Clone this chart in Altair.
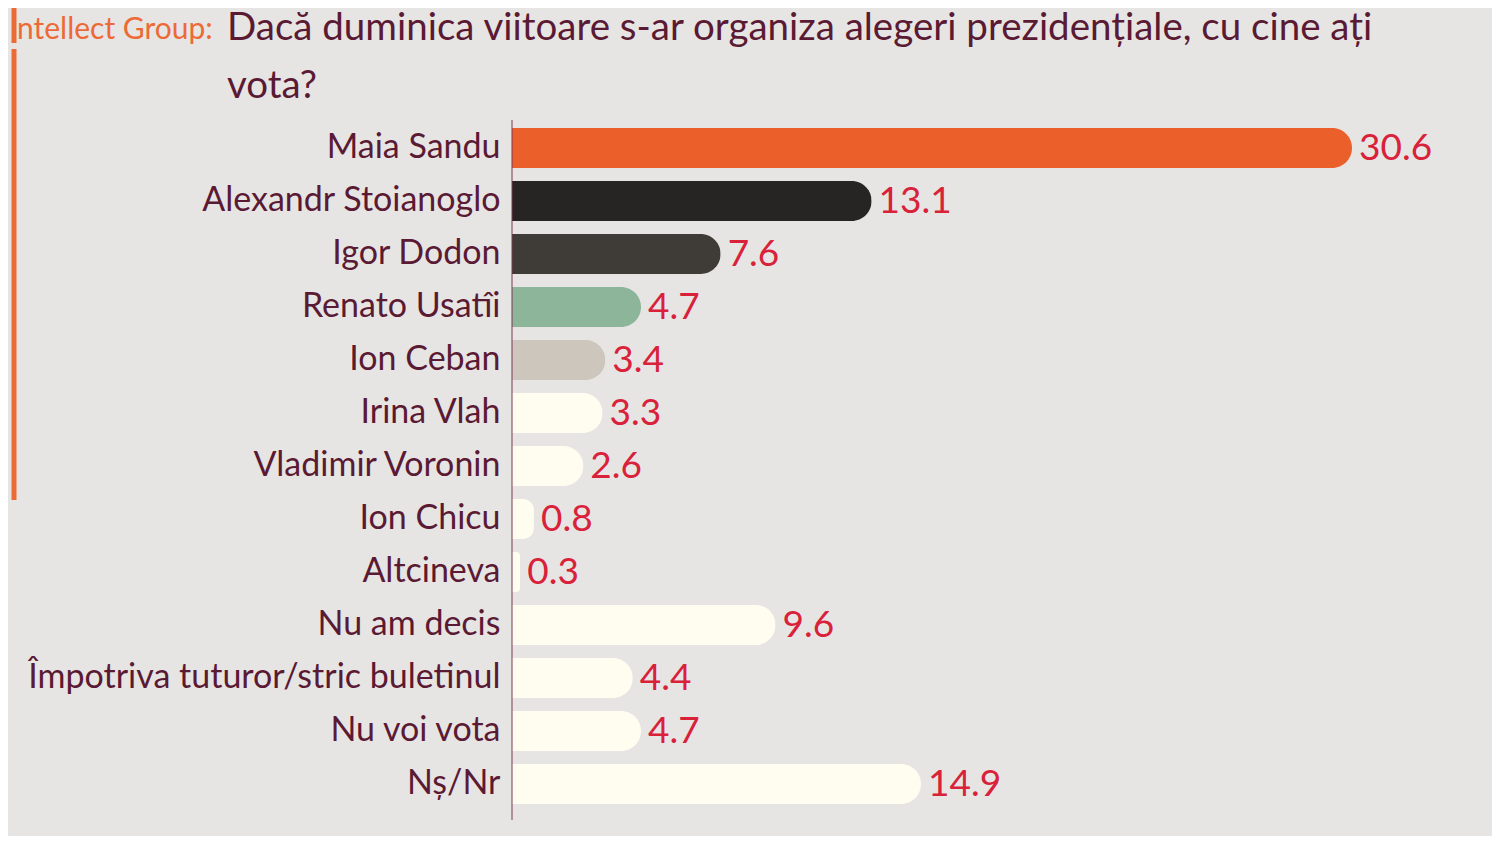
import altair as alt
import pandas as pd

names = ["Maia Sandu", "Alexandr Stoianoglo", "Igor Dodon", "Renato Usatîi", "Ion Ceban",
         "Irina Vlah", "Vladimir Voronin", "Ion Chicu", "Altcineva", "Nu am decis",
         "Împotriva tuturor/stric buletinul", "Nu voi vota", "Nș/Nr"]
values = [30.6, 13.1, 7.6, 4.7, 3.4, 3.3, 2.6, 0.8, 0.3, 9.6, 4.4, 4.7, 14.9]
colors = ["#eb5f2a", "#262523", "#3f3b37", "#8db59a", "#ccc6bc", "#fffcf0", "#fffcf0",
          "#fffcf0", "#fffcf0", "#fffcf0", "#fffcf0", "#fffcf0", "#fffcf0"]

title_lines = ["Dacă duminica viitoare s-ar organiza alegeri prezidențiale, cu cine ați", "vota?"]
source_label = "ntellect Group:"

df = pd.DataFrame({"name": names, "value": values, "color": colors})
df["label"] = df["value"].map(lambda v: f"{v:.1f}")

FONT = "Lato"
MAROON = "#5b1a33"

y_enc = alt.Y("name:N", sort=names, title=None,
              scale=alt.Scale(paddingInner=0.245, paddingOuter=0.13, range=[0, 690]),
              axis=alt.Axis(domain=False, ticks=False, labelPadding=12,
                            labelFont=FONT, labelFontSize=34, labelColor=MAROON,
                            labelLimit=600))
x_enc = alt.X("value:Q", scale=alt.Scale(domain=[0, 35.7], nice=False), axis=None)

base = alt.Chart(df)

bars = base.mark_bar(cornerRadiusEnd=20).encode(
    x=x_enc, y=y_enc, color=alt.Color("color:N", scale=None)
)

labels = base.mark_text(align="left", baseline="middle", dx=7, dy=1,
                        font=FONT, fontSize=37, color="#d9213a").encode(
    x=x_enc, y=alt.Y("name:N", sort=names), text="label:N"
)

axis_line = alt.Chart(pd.DataFrame({"a": [0]})).mark_rule(color="#7a3a52", strokeWidth=1).encode(
    x=alt.value(0), y=alt.value(-1), y2=alt.value(699)
)

title_df = pd.DataFrame({"t": title_lines, "yy": [-81, -23]})
title = alt.Chart(title_df).mark_text(align="left", baseline="alphabetic", font=FONT,
                                      fontSize=38.5, color=MAROON).encode(
    x=alt.value(-285), y=alt.Y("yy:Q", scale=None), text="t:N"
)

src = alt.Chart(pd.DataFrame({"t": [source_label]})).mark_text(
    align="left", baseline="alphabetic", font=FONT, fontSize=30, color="#ec6a35").encode(
    x=alt.value(-495), y=alt.value(-82), text="t:N"
)

bar1 = alt.Chart(pd.DataFrame({"a": [0]})).mark_rule(color="#ec6a35", strokeWidth=5).encode(
    x=alt.value(-498), y=alt.value(-121), y2=alt.value(-78)
)
bar2 = alt.Chart(pd.DataFrame({"a": [0]})).mark_rule(color="#ec6a35", strokeWidth=5).encode(
    x=alt.value(-498), y=alt.value(-72), y2=alt.value(379)
)

chart = alt.layer(bars, labels, axis_line, title, src, bar1, bar2).properties(
    width=980, height=715,
    background="#e7e5e4",
    autosize=alt.AutoSizeParams(type="none"),
    padding={"left": 504, "top": 113, "right": 0, "bottom": 0},
).configure_view(stroke=None)

chart.save("out.html", embed_options={"renderer": "svg", "actions": False})
